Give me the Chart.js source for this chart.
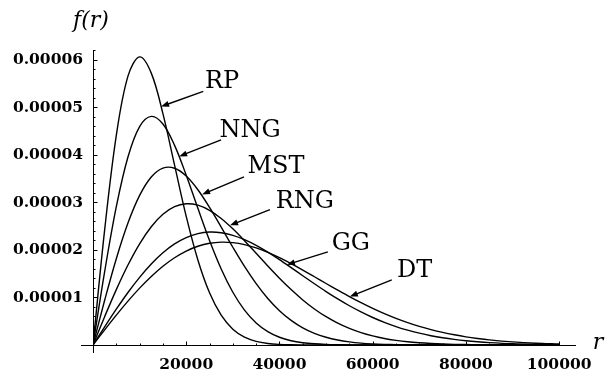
<html>
<head>
<script src="https://cdn.jsdelivr.net/npm/chart.js@4.4.0/dist/chart.umd.min.js"></script>
<style>body{margin:0;background:#fff}</style>
</head>
<body>
<canvas id="myChart" width="612" height="379"></canvas>
<script>
// r values and f(r), f in units of 0.00001
var r = [0, 2500, 5000, 7500, 10000, 12500, 15000, 17500, 20000, 22500, 25000, 27500, 30000, 32500,
  35000, 37500, 40000, 42500, 45000, 47500, 50000, 52500, 55000, 57500, 60000, 62500, 65000, 67500,
  70000, 72500, 75000, 77500, 80000, 82500, 85000, 90000, 95000, 100000];
var RP  = [0, 2.423, 4.412, 5.661, 6.065, 5.723, 4.870, 3.785, 2.707, 1.790, 1.098, 0.627, 0.333, 0.165,
  0.077, 0.033, 0.013, 0.005, 0.002, 0.001, 0, 0, 0, 0, 0, 0, 0, 0, 0, 0, 0, 0, 0, 0, 0, 0, 0, 0];
var NNG = [0, 1.544, 2.911, 3.957, 4.597, 4.813, 4.652, 4.202, 3.574, 2.877, 2.199, 1.600, 1.110, 0.735,
  0.465, 0.282, 0.163, 0.090, 0.048, 0.025, 0.012, 0.006, 0.003, 0.001, 0, 0, 0, 0, 0, 0, 0, 0, 0, 0, 0, 0, 0, 0];
var MST = [0, 0.941, 1.817, 2.567, 3.149, 3.537, 3.723, 3.721, 3.557, 3.268, 2.896, 2.481, 2.058, 1.655,
  1.293, 0.980, 0.723, 0.519, 0.362, 0.246, 0.163, 0.105, 0.066, 0.040, 0.024, 0.014, 0.008, 0.004,
  0.002, 0.001, 0, 0, 0, 0, 0, 0, 0, 0];
var RNG = [0, 0.596, 1.166, 1.684, 2.131, 2.490, 2.751, 2.911, 2.972, 2.943, 2.835, 2.664, 2.445, 2.195,
  1.930, 1.663, 1.406, 1.166, 0.949, 0.759, 0.596, 0.460, 0.349, 0.260, 0.191, 0.137, 0.098, 0.068,
  0.047, 0.032, 0.021, 0.014, 0.009, 0.006, 0.004, 0.001, 0, 0];
var GG  = [0, 0.383, 0.754, 1.105, 1.424, 1.705, 1.940, 2.127, 2.261, 2.345, 2.378, 2.364, 2.309, 2.219,
  2.099, 1.956, 1.798, 1.630, 1.458, 1.289, 1.125, 0.970, 0.826, 0.696, 0.579, 0.477, 0.388, 0.312,
  0.249, 0.196, 0.153, 0.118, 0.090, 0.068, 0.051, 0.027, 0.014, 0.007];
var DT  = [0, 0.318, 0.628, 0.923, 1.197, 1.443, 1.658, 1.836, 1.977, 2.078, 2.141, 2.166, 2.155, 2.114,
  2.044, 1.951, 1.839, 1.713, 1.578, 1.437, 1.295, 1.155, 1.019, 0.891, 0.770, 0.660, 0.560, 0.471,
  0.392, 0.324, 0.265, 0.215, 0.172, 0.137, 0.108, 0.066, 0.038, 0.022];
var UNIT = 0.00001;

var names = ['RP', 'NNG', 'MST', 'RNG', 'GG', 'DT'];
var series = [RP, NNG, MST, RNG, GG, DT];

var xTicks = [20000, 40000, 60000, 80000, 100000];
var xTickLabels = ['20000', '40000', '60000', '80000', '100000'];
var xMinor = [5000, 10000, 15000, 25000, 30000, 35000, 45000, 50000, 55000, 65000, 70000, 75000, 85000, 90000, 95000];
var yTicks = [0.00001, 0.00002, 0.00003, 0.00004, 0.00005, 0.00006];
var yTickLabels = ['0.00001', '0.00002', '0.00003', '0.00004', '0.00005', '0.00006'];
var yMinor = [0.2, 0.4, 0.6, 0.8, 1.2, 1.4, 1.6, 1.8, 2.2, 2.4, 2.6, 2.8, 3.2, 3.4, 3.6, 3.8,
  4.2, 4.4, 4.6, 4.8, 5.2, 5.4, 5.6, 5.8, 6.2];

// callout labels: text centre, arrow tail, arrow tip (r, f in units of 0.00001)
var labelAt   = [[27700, 5.55], [33700, 4.51], [39250, 3.76], [45460, 3.02], [55310, 2.13], [69010, 1.56]];
var arrowFrom = [[23660, 5.34], [27470, 4.32], [32400, 3.54], [37960, 2.85], [50380, 1.96], [64090, 1.37]];
var arrowTo   = [[14600, 5.02], [18480, 3.97], [23400, 3.17], [29400, 2.52], [41600, 1.69], [55100, 1.02]];

var SERIF = '"DejaVu Serif", "Liberation Serif", serif';

var overlay = {
  id: 'overlay',
  afterDraw: function(chart) {
    var ctx = chart.ctx, sx = chart.scales.x, sy = chart.scales.y, a = chart.chartArea;
    var ax = Math.round(a.left) + 0.5, ay = Math.round(a.bottom) + 0.5;
    ctx.save();
    ctx.strokeStyle = '#000';
    ctx.fillStyle = '#000';
    ctx.lineWidth = 1;
    ctx.beginPath();
    // axes run a little past the origin
    ctx.moveTo(a.left - 12, ay); ctx.lineTo(a.left, ay);
    ctx.moveTo(ax, a.bottom); ctx.lineTo(ax, a.bottom + 8);
    xTicks.forEach(function(v) { var p = Math.round(sx.getPixelForValue(v)) + 0.5; ctx.moveTo(p, ay); ctx.lineTo(p, ay - 4); });
    xMinor.forEach(function(v) { var p = Math.round(sx.getPixelForValue(v)) + 0.5; ctx.moveTo(p, ay); ctx.lineTo(p, ay - 2); });
    yTicks.forEach(function(v) { var p = Math.round(sy.getPixelForValue(v)) + 0.5; ctx.moveTo(ax, p); ctx.lineTo(ax + 4, p); });
    yMinor.forEach(function(v) { var p = Math.round(sy.getPixelForValue(v * UNIT)) + 0.5; ctx.moveTo(ax, p); ctx.lineTo(ax + 2, p); });
    ctx.stroke();

    ctx.textAlign = 'center';
    ctx.textBaseline = 'middle';
    ctx.font = 'italic 22px ' + SERIF;
    ctx.fillText('f(r)', a.left - 2, 21);
    ctx.fillText('r', 598, 343);

    ctx.font = '24px ' + SERIF;
    ctx.lineWidth = 1.4;
    for (var i = 0; i < names.length; i++) {
      ctx.fillText(names[i], sx.getPixelForValue(labelAt[i][0]), sy.getPixelForValue(labelAt[i][1] * UNIT));
      var x0 = sx.getPixelForValue(arrowFrom[i][0]), y0 = sy.getPixelForValue(arrowFrom[i][1] * UNIT);
      var x1 = sx.getPixelForValue(arrowTo[i][0]), y1 = sy.getPixelForValue(arrowTo[i][1] * UNIT);
      var ang = Math.atan2(y1 - y0, x1 - x0);
      ctx.beginPath();
      ctx.moveTo(x0, y0);
      ctx.lineTo(x1 - 6 * Math.cos(ang), y1 - 6 * Math.sin(ang));
      ctx.stroke();
      ctx.beginPath();
      ctx.moveTo(x1, y1);
      ctx.lineTo(x1 - 8 * Math.cos(ang) + 3 * Math.sin(ang), y1 - 8 * Math.sin(ang) - 3 * Math.cos(ang));
      ctx.lineTo(x1 - 8 * Math.cos(ang) - 3 * Math.sin(ang), y1 - 8 * Math.sin(ang) + 3 * Math.cos(ang));
      ctx.closePath();
      ctx.fill();
    }
    ctx.restore();
  }
};

var ctx = document.getElementById('myChart').getContext('2d');
var myChart = new Chart(ctx, {
  type: 'line',
  data: {
    datasets: series.map(function(s, i) {
      return {
        label: names[i],
        data: s.map(function(v, k) { return { x: r[k], y: v * UNIT }; }),
        borderColor: '#000',
        borderWidth: 1.4,
        pointRadius: 0,
        fill: false,
        tension: 0.35
      };
    })
  },
  options: {
    responsive: false,
    animation: false,
    devicePixelRatio: 1,
    layout: { padding: { top: 50, right: 37, left: 0, bottom: 0 } },
    plugins: { legend: { display: false }, tooltip: { enabled: false } },
    scales: {
      x: {
        type: 'linear',
        min: 0,
        max: 103400,
        grid: { display: false, drawTicks: false },
        border: { display: true, color: '#000', width: 1 },
        afterBuildTicks: function(s) { s.ticks = xTicks.map(function(v) { return { value: v }; }); },
        afterFit: function(s) { s.height = 34; },
        ticks: {
          autoSkip: false, maxRotation: 0, padding: 11, color: '#000',
          font: { family: SERIF, size: 15.5, weight: 'bold' },
          callback: function(v, i) { return xTickLabels[i]; }
        }
      },
      y: {
        type: 'linear',
        min: 0,
        max: 0.0000621,
        grid: { display: false, drawTicks: false },
        border: { display: true, color: '#000', width: 1 },
        afterBuildTicks: function(s) { s.ticks = yTicks.map(function(v) { return { value: v }; }); },
        afterFit: function(s) { s.width = 93; },
        ticks: {
          autoSkip: false, padding: 10, color: '#000',
          font: { family: SERIF, size: 15.5, weight: 'bold' },
          callback: function(v, i) { return yTickLabels[i]; }
        }
      }
    }
  },
  plugins: [overlay]
});
</script>
</body>
</html>
